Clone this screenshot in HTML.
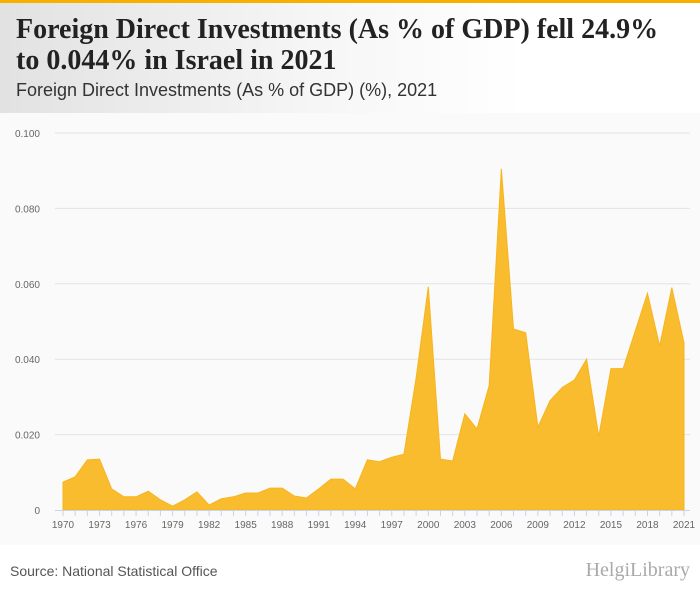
<!DOCTYPE html>
<html><head><meta charset="utf-8"><style>
body{margin:0;width:700px;height:596px;overflow:hidden;font-family:"Liberation Sans",sans-serif;background:#fff;position:relative}
#bar{position:absolute;left:0;top:0;width:700px;height:3px;background:#f5b000}
#hdr{position:absolute;left:0;top:3px;width:700px;height:110px;background:linear-gradient(90deg,#e2e2e2 0%,#f6f6f6 45%,#fff 75%)}
#title{position:absolute;left:16px;top:14px;font-family:"Liberation Serif",serif;font-weight:bold;font-size:28px;line-height:31px;color:#222;white-space:nowrap}
#sub{position:absolute;left:16px;top:80px;font-size:18px;color:#333;white-space:nowrap}
#plot{position:absolute;left:0;top:113px;width:700px;height:432px;background:#fafafa}
#src{position:absolute;left:10px;top:563px;font-size:14px;color:#555}
#logo{position:absolute;right:10px;top:559px;font-family:"Liberation Serif",serif;font-size:20px;color:#aaa}
</style></head><body>
<div id="bar"></div>
<div id="hdr"></div>
<div id="title">Foreign Direct Investments (As % of GDP) fell 24.9%<br>to 0.044% in Israel in 2021</div>
<div id="sub">Foreign Direct Investments (As % of GDP) (%), 2021</div>
<div id="plot"></div>
<svg id="chart" width="700" height="596" style="position:absolute;left:0;top:0"></svg>
<div id="src">Source: National Statistical Office</div>
<div id="logo">HelgiLibrary</div>
<script>
const years=[];for(let y=1970;y<=2021;y++)years.push(y);
const values=[0.0074,0.0088,0.0133,0.0135,0.0056,0.0035,0.0035,0.005,0.0027,0.001,0.0027,0.0048,0.0013,0.003,0.0035,0.0045,0.0045,0.0058,0.0058,0.0037,0.0032,0.0056,0.0082,0.0082,0.0056,0.0133,0.0128,0.014,0.0148,0.035,0.0592,0.0135,0.013,0.0255,0.0215,0.033,0.0905,0.048,0.047,0.022,0.029,0.0325,0.0345,0.040,0.0195,0.0375,0.0375,0.0475,0.0575,0.0435,0.059,0.0443];
const yTicks=[0,0.02,0.04,0.06,0.08,0.1];
const yLabels=["0","0.020","0.040","0.060","0.080","0.100"];
const NS="http://www.w3.org/2000/svg",svg=document.getElementById('chart');
const x=y=>63+(y-1970)*(684-63)/51, yy=v=>510-v*3770;
function mk(t,a){const e=document.createElementNS(NS,t);for(const k in a)e.setAttribute(k,a[k]);svg.appendChild(e);return e;}
yTicks.forEach((v,i)=>{
 if(v>0){const g=mk('line',{x1:55,x2:690,y1:yy(v),y2:yy(v),stroke:'#e3e3e3'});
 
 }
 const t=mk('text',{x:40,y:yy(v)+4,'text-anchor':'end','font-size':10,fill:'#666','font-family':'Liberation Sans'});t.textContent=yLabels[i];
 
 
});
let d='M'+x(years[0])+','+yy(0);
years.forEach((y,i)=>d+=' L'+x(y)+','+yy(values[i]));
d+=' L'+x(years[years.length-1])+','+yy(0)+' Z';
const area=mk('path',{d:d,fill:'#f9bc2f',stroke:'#f7b51c','stroke-width':1});


const ax=mk('line',{x1:55,x2:690,y1:510.5,y2:510.5,stroke:'#c8d4e8'});


years.forEach((y,i)=>{
 const tk=mk('line',{x1:x(y),x2:x(y),y1:510,y2:516,stroke:'#c8d4e8'});
 
 
 if(i%3===0||y===2021){const t=mk('text',{x:x(y),y:528,'text-anchor':'middle','font-size':10,fill:'#666','font-family':'Liberation Sans'});t.textContent=y;
 
 }
});
</script>
</body></html>
